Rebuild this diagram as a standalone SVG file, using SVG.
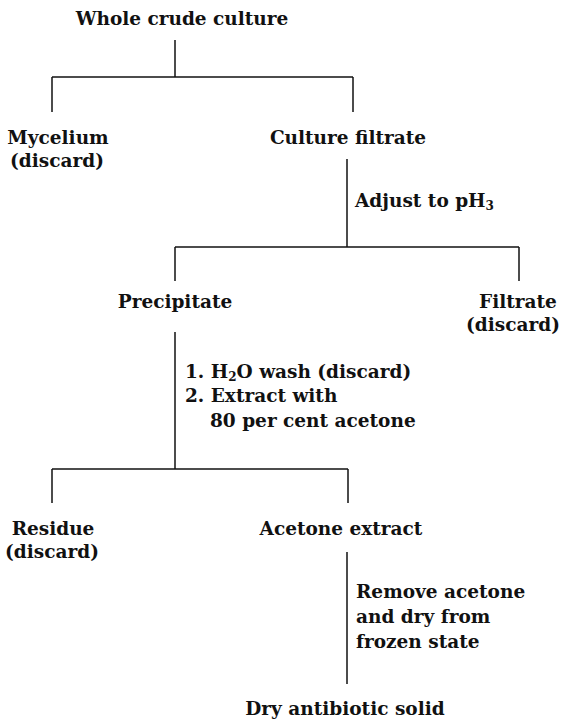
<svg xmlns="http://www.w3.org/2000/svg" width="562" height="721" viewBox="0 0 562 721">
<style>
text{font-family:"DejaVu Serif","Liberation Serif",serif;font-weight:bold;font-size:18.5px;fill:#111}
.c{text-anchor:middle}
.sub{font-size:12px}
line{stroke:#111;stroke-width:1.5;fill:none}
</style>
<rect width="562" height="721" fill="#fff"/>
<g id="connectors">
<line x1="175" y1="40" x2="175" y2="77"/>
<line x1="52" y1="77" x2="353" y2="77"/>
<line x1="52" y1="77" x2="52" y2="112"/>
<line x1="353" y1="77" x2="353" y2="112"/>
<line x1="347" y1="159" x2="347" y2="247"/>
<line x1="175" y1="247" x2="519" y2="247"/>
<line x1="175" y1="247" x2="175" y2="281"/>
<line x1="519" y1="247" x2="519" y2="281"/>
<line x1="175" y1="332" x2="175" y2="469"/>
<line x1="52" y1="469" x2="348" y2="469"/>
<line x1="52" y1="469" x2="52" y2="503"/>
<line x1="348" y1="469" x2="348" y2="503"/>
<line x1="347" y1="552" x2="347" y2="684"/>
</g>
<g id="whole"><text x="182" y="25" class="c">Whole crude culture</text></g>
<g id="mycelium"><text x="58" y="144" class="c">Mycelium</text><text x="57" y="167" class="c">(discard)</text></g>
<g id="filtrate1"><text x="348" y="144" class="c">Culture filtrate</text></g>
<g id="step1"><text x="355" y="207">Adjust to pH<tspan class="sub" dy="3">3</tspan></text></g>
<g id="precipitate"><text x="175" y="308" class="c">Precipitate</text></g>
<g id="filtrate2"><text x="518" y="308" class="c">Filtrate</text><text x="513" y="331" class="c">(discard)</text></g>
<g id="step2"><text x="185" y="378">1.  H<tspan class="sub" dy="3">2</tspan><tspan dy="-3">O wash (discard)</tspan></text><text x="185" y="402">2.  Extract with</text><text x="210" y="427">80 per cent acetone</text></g>
<g id="residue"><text x="53" y="535" class="c">Residue</text><text x="52" y="558" class="c">(discard)</text></g>
<g id="acetone"><text x="341" y="535" class="c">Acetone extract</text></g>
<g id="step3"><text x="356" y="598">Remove acetone</text><text x="356" y="623">and dry from</text><text x="356" y="648">frozen state</text></g>
<g id="dry"><text x="345" y="715" class="c">Dry antibiotic solid</text></g>
</svg>
